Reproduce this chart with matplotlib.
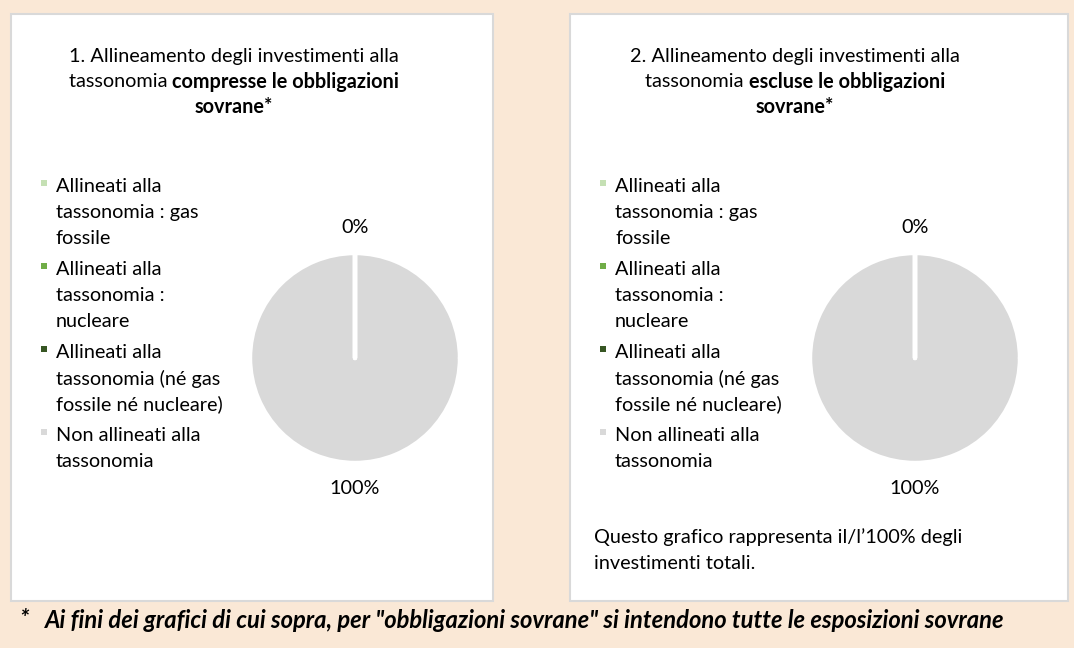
import matplotlib
matplotlib.use("Agg")
import matplotlib.pyplot as plt
from matplotlib.patches import Rectangle

# ---------------- data ----------------
categories = [
    "Allineati alla\ntassonomia : gas\nfossile",
    "Allineati alla\ntassonomia :\nnucleare",
    "Allineati alla\ntassonomia (né gas\nfossile né nucleare)",
    "Non allineati alla\ntassonomia",
]
colors = ["#C5E0B4", "#70AD47", "#375623", "#D9D9D9"]
values_incl = [0, 0, 0, 100]   # compresse le obbligazioni sovrane
values_excl = [0, 0, 0, 100]   # escluse le obbligazioni sovrane
title_plain_1 = ["1. Allineamento degli investimenti alla", "tassonomia "]
title_bold_1 = ["compresse le obbligazioni", "sovrane*"]
title_plain_2 = ["2. Allineamento degli investimenti alla", "tassonomia "]
title_bold_2 = ["escluse le obbligazioni", "sovrane*"]
note_right = "Questo grafico rappresenta il/l\u2019100% degli\ninvestimenti totali."
footnote = "Ai fini dei grafici di cui sopra, per \"obbligazioni sovrane\" si intendono tutte le esposizioni sovrane"

# ---------------- layout ----------------
W, H = 1074, 648
DPI = 100
BG = "#FAE8D6"
FONT = "Lato"
FS = 14.3
FS_NOTE = 17.1

fig = plt.figure(figsize=(W / DPI, H / DPI), dpi=DPI)
fig.patch.set_facecolor(BG)


def fx(x):
    return x / W


def fy(y):
    return 1 - y / H


panels = [(11, 14, 493, 601), (570, 14, 1068, 601)]
for (x0, y0, x1, y1) in panels:
    fig.patches.append(Rectangle((fx(x0), fy(y1)), fx(x1) - fx(x0), fy(y0) - fy(y1),
                                 transform=fig.transFigure, facecolor="white",
                                 edgecolor="#D9D9D9", linewidth=1.5, zorder=-2))

fig.canvas.draw()
renderer = fig.canvas.get_renderer()


def text_width(s, weight="normal"):
    t = fig.text(0, 0, s, fontsize=FS, family=FONT, weight=weight)
    w = t.get_window_extent(renderer).width
    t.remove()
    return w


def draw_title(cx, plain, bold, ys):
    fig.text(fx(cx), fy(ys[0]), plain[0], ha="center", va="center_baseline",
             fontsize=FS, family=FONT)
    w1 = text_width(plain[1])
    w2 = text_width(bold[0], "bold")
    start = cx - (w1 + w2) / 2
    fig.text(fx(start), fy(ys[1]), plain[1], ha="left", va="center_baseline",
             fontsize=FS, family=FONT)
    fig.text(fx(start + w1), fy(ys[1]), bold[0], ha="left", va="center_baseline",
             fontsize=FS, family=FONT, weight="bold")
    fig.text(fx(cx), fy(ys[2]), bold[1], ha="center", va="center_baseline",
             fontsize=FS, family=FONT, weight="bold")


def draw_legend(px0):
    y = 185
    pitch = 26
    for lab, col in zip(categories, colors):
        lines = lab.split("\n")
        fig.patches.append(Rectangle((fx(px0 + 30), fy(y + 1)), 6 / W, 6 / H,
                                     transform=fig.transFigure, facecolor=col,
                                     edgecolor="none", zorder=2))
        for i, ln in enumerate(lines):
            fig.text(fx(px0 + 45), fy(y + i * pitch), ln, ha="left",
                     va="center_baseline", fontsize=FS, family=FONT, color="#000000")
        y += len(lines) * pitch + 5


def draw_pie(cx, cy, vals):
    r_px = 105
    half = r_px * 1.4
    ax = fig.add_axes([fx(cx - half), fy(cy + half), 2 * half / W, 2 * half / H])
    ax.set_zorder(1)
    ax.patch.set_alpha(0)
    labels = []
    seen_zero = False
    for v in vals:
        if v == 0:
            labels.append("" if seen_zero else f"{v}%")
            seen_zero = True
        else:
            labels.append(f"{v}%")
    wedges, texts = ax.pie(vals, colors=colors, startangle=90, counterclock=False,
                           radius=1.0, labels=labels, labeldistance=1.24,
                           wedgeprops=dict(edgecolor="white", linewidth=3.2,
                                           joinstyle="round", capstyle="round"),
                           textprops=dict(fontsize=FS, family=FONT))
    for w, v in zip(wedges, vals):
        if v == 0:
            w.set_zorder(3)
    for t in texts:
        t.set_ha("center")
        t.set_va("center")
    ax.set_xlim(-1.4, 1.4)
    ax.set_ylim(-1.4, 1.4)
    ax.axis("off")


draw_title(234, title_plain_1, title_bold_1, (55, 80, 105))
draw_title(795, title_plain_2, title_bold_2, (55, 80, 105))
draw_legend(11)
draw_legend(570)
draw_pie(355, 358, values_incl)
draw_pie(915, 358, values_excl)

nl = note_right.split("\n")
for i, ln in enumerate(nl):
    fig.text(fx(594), fy(536 + i * 26), ln, ha="left", va="center_baseline",
             fontsize=FS, family=FONT)

fig.text(fx(24), fy(618), "*", ha="center", va="center_baseline", fontsize=FS_NOTE,
         family=FONT, weight="bold", style="italic")
fig.text(fx(45), fy(618), footnote, ha="left", va="center_baseline", fontsize=FS_NOTE,
         family=FONT, weight="bold", style="italic")

fig.savefig("out.png", dpi=DPI, facecolor=BG)
